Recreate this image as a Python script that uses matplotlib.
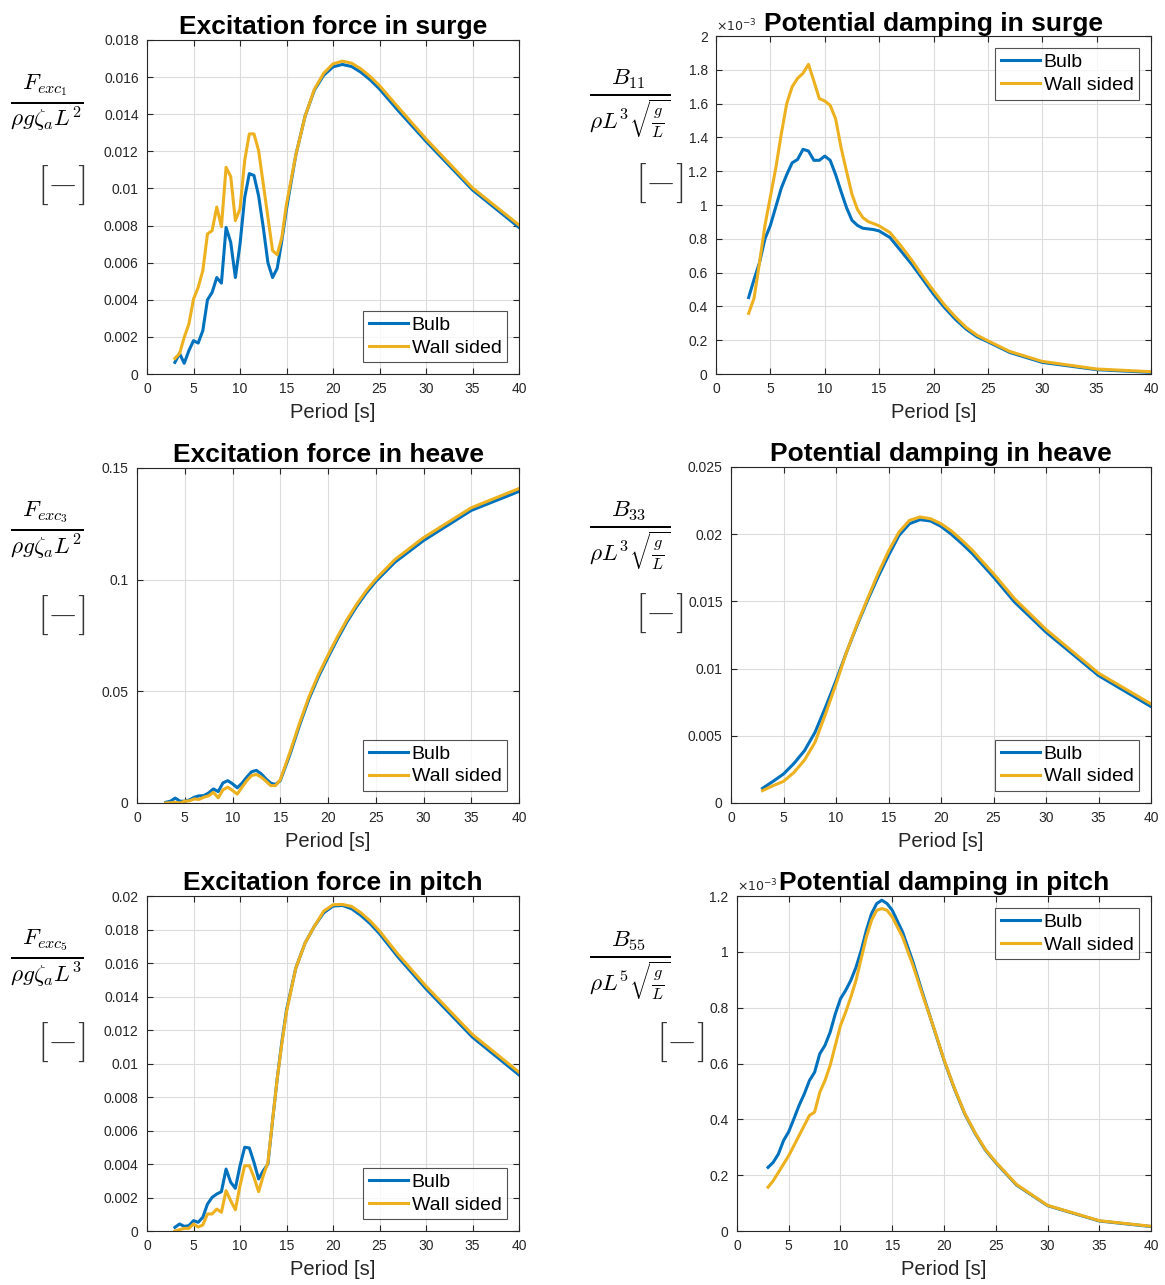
import matplotlib
matplotlib.use("Agg")
import matplotlib.pyplot as plt
from matplotlib.ticker import FuncFormatter

plt.rcParams["font.family"] = ["Liberation Sans", "DejaVu Sans"]
plt.rcParams["mathtext.fontset"] = "cm"

# wave periods [s]
period = [3, 3.5, 4, 4.5, 5, 5.5, 6, 6.5, 7, 7.5, 8, 8.5, 9, 9.5, 10, 10.5, 11, 11.5,
          12, 12.5, 13, 13.5, 14, 14.5, 15, 16, 17, 18, 19, 20, 21, 22, 23, 24, 25,
          27, 30, 35, 40]
period_coarse = [3, 4, 5, 6, 7, 8, 9, 10, 11, 12, 13, 14, 15, 16, 17, 18, 19, 20,
                 21, 22, 23, 24, 25, 27, 30, 35, 40]

# excitation force, surge
exc_surge_bulb = [0.00063, 0.00111, 0.00058, 0.00126, 0.0018, 0.00167, 0.00234, 0.0040,
                  0.0044, 0.0052, 0.0049, 0.0079, 0.0071, 0.0052, 0.0070, 0.0095, 0.0108,
                  0.0107, 0.0096, 0.0079, 0.0060, 0.0052, 0.0057, 0.0072, 0.0089, 0.0118,
                  0.0139, 0.0153, 0.0161, 0.01655, 0.01668, 0.01657, 0.01626, 0.01585,
                  0.01536, 0.0142, 0.01254, 0.00992, 0.0079]
exc_surge_wall = [0.00084, 0.00111, 0.00198, 0.0027, 0.00404, 0.00467, 0.00557, 0.00755,
                  0.00773, 0.0090, 0.00794, 0.01114, 0.01064, 0.00827, 0.0089, 0.0115,
                  0.01294, 0.01294, 0.01204, 0.01024, 0.00845, 0.00665, 0.00643, 0.00737,
                  0.00917, 0.0118, 0.0139, 0.01535, 0.01621, 0.01671, 0.01686, 0.01675,
                  0.01644, 0.01603, 0.01554, 0.01438, 0.01267, 0.01003, 0.00803]

# potential damping, surge (x 1e-3)
damp_surge_bulb = [0.453, 0.56, 0.66, 0.80, 0.88, 0.99, 1.10, 1.18, 1.25, 1.27, 1.33,
                   1.32, 1.265, 1.265, 1.29, 1.265, 1.18, 1.08, 0.985, 0.91, 0.88, 0.863,
                   0.859, 0.855, 0.847, 0.808, 0.729, 0.65, 0.562, 0.473, 0.394, 0.325,
                   0.266, 0.221, 0.191, 0.128, 0.069, 0.026, 0.01]
damp_surge_wall = [0.359, 0.45, 0.66, 0.88, 1.05, 1.22, 1.42, 1.60, 1.70, 1.75, 1.78,
                   1.833, 1.734, 1.63, 1.616, 1.59, 1.51, 1.34, 1.20, 1.064, 0.975, 0.926,
                   0.902, 0.89, 0.877, 0.837, 0.759, 0.674, 0.581, 0.493, 0.41, 0.339,
                   0.276, 0.23, 0.197, 0.134, 0.075, 0.03, 0.014]

# excitation force, heave
exc_heave_bulb = [0.0003, 0.0008, 0.0022, 0.0008, 0.0008, 0.0014, 0.0026, 0.0032, 0.0033,
                  0.0045, 0.0063, 0.0051, 0.0090, 0.0100, 0.0086, 0.0068, 0.0089, 0.0116,
                  0.0140, 0.0146, 0.0131, 0.0108, 0.0089, 0.0083, 0.0100, 0.0215, 0.0345,
                  0.0465, 0.0565, 0.0652, 0.0735, 0.0812, 0.0880, 0.0940, 0.0992, 0.1078,
                  0.1175, 0.131, 0.1395]
exc_heave_wall = [0.0, 0.0001, 0.0003, 0.0, 0.0008, 0.0010, 0.0018, 0.0016, 0.0026,
                  0.0032, 0.0048, 0.0023, 0.0059, 0.0071, 0.0056, 0.0040, 0.0071, 0.0100,
                  0.0123, 0.0128, 0.0116, 0.0098, 0.0078, 0.0078, 0.0104, 0.0225, 0.0355,
                  0.0475, 0.0575, 0.0662, 0.0745, 0.0822, 0.0890, 0.0950, 0.1002, 0.1090,
                  0.1188, 0.1322, 0.1408]

# potential damping, heave
damp_heave_bulb = [0.00109, 0.00161, 0.00216, 0.00295, 0.0039, 0.00526, 0.00713, 0.00911,
                   0.01122, 0.01321, 0.01507, 0.01681, 0.01842, 0.01991, 0.02078, 0.02108,
                   0.02098, 0.02058, 0.01998, 0.01929, 0.01854, 0.01768, 0.01681, 0.01495,
                   0.01271, 0.00948, 0.00717]
damp_heave_wall = [0.00092, 0.00129, 0.00161, 0.00228, 0.0032, 0.00452, 0.00663, 0.00886,
                   0.01122, 0.01328, 0.0152, 0.01706, 0.01874, 0.02016, 0.02103, 0.02128,
                   0.02115, 0.02078, 0.02023, 0.01954, 0.01879, 0.01792, 0.01706, 0.0152,
                   0.01291, 0.00966, 0.00737]

# excitation moment, pitch
exc_pitch_bulb = [0.00022, 0.00042, 0.00028, 0.00032, 0.00062, 0.00052, 0.00082, 0.00161,
                  0.00201, 0.00221, 0.00235, 0.0037, 0.00291, 0.00255, 0.0039, 0.0050,
                  0.00496, 0.0041, 0.00311, 0.0036, 0.0040, 0.0066, 0.0091, 0.0113, 0.0132,
                  0.0157, 0.0172, 0.0182, 0.0190, 0.0194, 0.01944, 0.01924, 0.01884,
                  0.01835, 0.01775, 0.01635, 0.01446, 0.01157, 0.00932]
exc_pitch_wall = [0.0, 0.00008, 0.00016, 0.00016, 0.00042, 0.00024, 0.00036, 0.00102,
                  0.00102, 0.00131, 0.00112, 0.00241, 0.00181, 0.00127, 0.00271, 0.0039,
                  0.0039, 0.00321, 0.00235, 0.0033, 0.0041, 0.0066, 0.0091, 0.0112, 0.0131,
                  0.0157, 0.0172, 0.0182, 0.0191, 0.01948, 0.0195, 0.01938, 0.0190,
                  0.01851, 0.01791, 0.01651, 0.01462, 0.01173, 0.00948]

# potential damping, pitch (x 1e-3)
damp_pitch_bulb = [0.228, 0.246, 0.276, 0.324, 0.356, 0.402, 0.45, 0.491, 0.539, 0.569,
                   0.635, 0.665, 0.712, 0.778, 0.832, 0.862, 0.898, 0.945, 1.005, 1.077,
                   1.137, 1.173, 1.185, 1.173, 1.149, 1.071, 0.964, 0.844, 0.728, 0.612,
                   0.51, 0.42, 0.35, 0.29, 0.245, 0.165, 0.091, 0.036, 0.016]
damp_pitch_wall = [0.157, 0.18, 0.21, 0.24, 0.27, 0.306, 0.342, 0.378, 0.414, 0.426, 0.497,
                   0.539, 0.593, 0.665, 0.736, 0.784, 0.838, 0.898, 0.976, 1.053, 1.113,
                   1.149, 1.155, 1.149, 1.125, 1.053, 0.952, 0.838, 0.730, 0.614, 0.512,
                   0.422, 0.352, 0.292, 0.247, 0.167, 0.092, 0.037, 0.017]

BLUE = "#0072BD"
YELLOW = "#EDB120"
DARK = "#262626"


def panel(rect, x, bulb, wall, title, ymax, ystep, loc, scale=1.0):
    ax = fig.add_axes(rect)
    ax.plot(x, [v * scale for v in bulb], color=BLUE, lw=2.2, label="Bulb")
    ax.plot(x, [v * scale for v in wall], color=YELLOW, lw=2.2, label="Wall sided")
    ax.set_xlim(0, 40)
    ax.set_ylim(0, ymax)
    ax.set_xticks(range(0, 41, 5))
    n = int(round(ymax / ystep))
    ax.set_yticks([i * ystep for i in range(n + 1)])
    if scale != 1.0:
        ax.yaxis.set_major_formatter(FuncFormatter(lambda v, p: "%g" % round(v / scale, 6)))
        ax.text(0, 1.004, r"$\times10^{-3}$", transform=ax.transAxes, fontsize=9,
                color=DARK, ha="left", va="bottom", math_fontfamily="dejavusans")
    else:
        ax.yaxis.set_major_formatter(FuncFormatter(lambda v, p: "%g" % round(v, 6)))
    ax.grid(True, color="#dcdcdc", lw=0.8)
    ax.set_axisbelow(True)
    ax.tick_params(direction="in", top=True, right=True, labelsize=10, colors=DARK,
                   length=4, pad=6)
    for s in ax.spines.values():
        s.set_color(DARK)
        s.set_linewidth(0.8)
    ax.set_title(title, fontsize=19, fontweight="bold", pad=4)
    ax.set_xlabel("Period [s]", fontsize=14.5, color=DARK, labelpad=5)
    leg = ax.legend(loc=loc, fontsize=14, frameon=True, fancybox=False, handlelength=2.0,
                    handletextpad=0.2, borderpad=0.3, labelspacing=0.25, borderaxespad=0.6)
    leg.get_frame().set_edgecolor(DARK)
    leg.get_frame().set_linewidth(0.8)
    return ax


def ylabel(xc, yc, xb, yb, tex):
    fig.text(xc, yc, tex, fontsize=24, ha="center", va="center")
    fig.text(xb, yb, r"$[-]$", fontsize=28, ha="center", va="center", color="#333333")


fig = plt.figure(figsize=(11.65, 12.85), dpi=100)

panel([0.1262, 0.7089, 0.3193, 0.2600], period, exc_surge_bulb, exc_surge_wall,
      "Excitation force in surge", 0.018, 0.002, "lower right")
panel([0.6146, 0.7089, 0.3734, 0.2630], period, damp_surge_bulb, damp_surge_wall,
      "Potential damping in surge", 2e-3, 0.2e-3, "upper right", scale=1e-3)
panel([0.1176, 0.3751, 0.3279, 0.2607], period, exc_heave_bulb, exc_heave_wall,
      "Excitation force in heave", 0.15, 0.05, "lower right")
panel([0.6275, 0.3751, 0.3605, 0.2615], period_coarse, damp_heave_bulb, damp_heave_wall,
      "Potential damping in heave", 0.025, 0.005, "lower right")
panel([0.1262, 0.0420, 0.3193, 0.2607], period, exc_pitch_bulb, exc_pitch_wall,
      "Excitation force in pitch", 0.02, 0.002, "lower right")
panel([0.6326, 0.0420, 0.3554, 0.2607], period, damp_pitch_bulb, damp_pitch_wall,
      "Potential damping in pitch", 1.2e-3, 0.2e-3, "upper right", scale=1e-3)

ylabel(0.040, 0.920, 0.053, 0.856, r"$\frac{F_{exc_1}}{\rho g \zeta_a L^2}$")
ylabel(0.040, 0.5875, 0.053, 0.5214, r"$\frac{F_{exc_3}}{\rho g \zeta_a L^2}$")
ylabel(0.040, 0.2545, 0.053, 0.189, r"$\frac{F_{exc_5}}{\rho g \zeta_a L^3}$")
ylabel(0.541, 0.920, 0.566, 0.8576, r"$\frac{B_{11}}{\rho L^3 \sqrt{\frac{g}{L}}}$")
ylabel(0.541, 0.5837, 0.566, 0.523, r"$\frac{B_{33}}{\rho L^3 \sqrt{\frac{g}{L}}}$")
ylabel(0.541, 0.249, 0.584, 0.189, r"$\frac{B_{55}}{\rho L^5 \sqrt{\frac{g}{L}}}$")

fig.savefig("out.png", dpi=100)
